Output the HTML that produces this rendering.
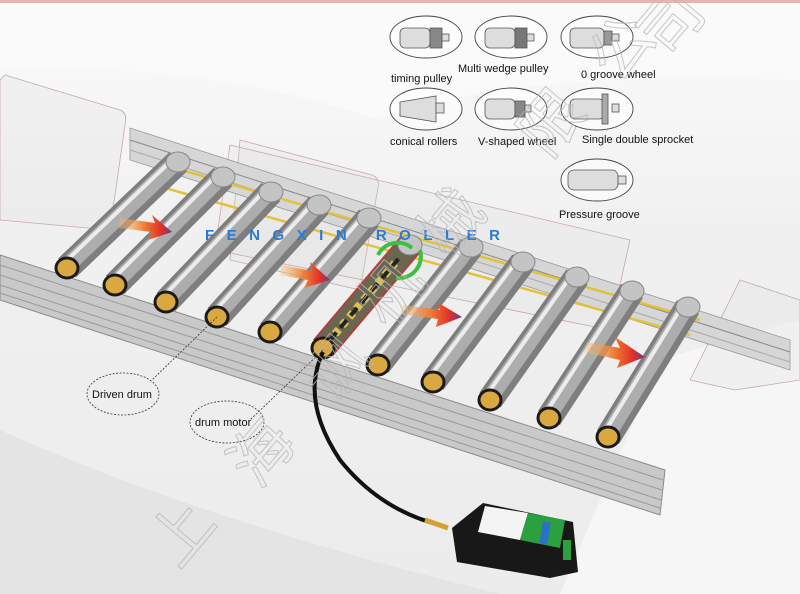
<!DOCTYPE html>
<html><head><meta charset="utf-8"><style>
html,body{margin:0;padding:0;background:#fff}
svg{display:block}
text{font-family:"Liberation Sans",sans-serif}
</style></head><body>
<svg width="800" height="594" viewBox="0 0 800 594" xmlns="http://www.w3.org/2000/svg">
<defs>
<linearGradient id="bg" x1="0" y1="0" x2="0" y2="1">
<stop offset="0" stop-color="#fbfbfb"/><stop offset="0.4" stop-color="#f0f0f0"/><stop offset="1" stop-color="#ececec"/>
</linearGradient>
<linearGradient id="arr" x1="0" y1="0" x2="1" y2="0">
<stop offset="0" stop-color="#f7c27a" stop-opacity="0.3"/><stop offset="0.5" stop-color="#f07a30"/><stop offset="0.8" stop-color="#e0302a"/><stop offset="1" stop-color="#6a3a8a"/>
</linearGradient>
</defs>
<rect width="800" height="594" fill="url(#bg)"/>
<rect x="0" y="0" width="800" height="3" fill="#e6b5b0"/>
<path d="M0 20 Q300 0 800 20 L800 80 Q500 70 380 120 Q200 60 0 70Z" fill="#fafafa"/>
<path d="M0 430 Q200 520 500 594 L0 594Z" fill="#e4e4e4"/>
<path d="M660 360 Q760 330 800 320 L800 594 L560 594Z" fill="#f6f6f6"/>
<g fill="rgba(225,225,225,0.3)" stroke="#c8a8a8" stroke-width="0.8">
<path d="M5 75 L120 110 Q128 113 125 125 L110 230 L0 220 L0 80Z"/>
<path d="M240 140 L372 175 Q380 178 378 188 L360 290 L230 260Z"/>
<path d="M740 280 L800 300 L800 380 L735 390 L690 380 Z"/>
<path d="M230 145 L630 240 L610 330 L215 250Z" fill="rgba(220,220,220,0.2)"/>
</g>
<polygon points="130,128 790,340 790,370 130,160" fill="#d6d6d6" stroke="#999" stroke-width="0.8"/>
<line x1="130" y1="140" x2="790" y2="352" stroke="#888" stroke-width="1"/>
<line x1="130" y1="150" x2="790" y2="362" stroke="#aaa" stroke-width="1"/>
<polygon points="0,255 665,470 660,515 0,300" fill="#c9c9c9" stroke="#8a8a8a" stroke-width="1"/>
<g stroke="#9a9a9a" stroke-width="1">
<line x1="0" y1="265" x2="663" y2="480"/><line x1="0" y1="275" x2="662" y2="490"/>
<line x1="0" y1="285" x2="661" y2="500"/><line x1="0" y1="293" x2="660" y2="508"/>
</g>
<g stroke="#e2c23a" stroke-width="2.5" fill="none">
<line x1="175" y1="168" x2="700" y2="320"/>
<line x1="165" y1="188" x2="690" y2="335"/>
</g>
<g stroke-linecap="butt">
<g stroke="#7e7e7e" stroke-width="26">
<line x1="67" y1="268" x2="178" y2="162"/><line x1="115" y1="285" x2="223" y2="177"/>
<line x1="166" y1="302" x2="271" y2="192"/><line x1="217" y1="317" x2="319" y2="205"/>
<line x1="270" y1="332" x2="369" y2="218"/><line x1="378" y1="365" x2="471" y2="247"/>
<line x1="433" y1="382" x2="523" y2="262"/><line x1="490" y1="400" x2="577" y2="277"/>
<line x1="549" y1="418" x2="632" y2="291"/><line x1="608" y1="437" x2="688" y2="307"/>
</g>
<g stroke="#adadad" stroke-width="16" transform="translate(-1,-1)">
<line x1="67" y1="268" x2="178" y2="162"/><line x1="115" y1="285" x2="223" y2="177"/>
<line x1="166" y1="302" x2="271" y2="192"/><line x1="217" y1="317" x2="319" y2="205"/>
<line x1="270" y1="332" x2="369" y2="218"/><line x1="378" y1="365" x2="471" y2="247"/>
<line x1="433" y1="382" x2="523" y2="262"/><line x1="490" y1="400" x2="577" y2="277"/>
<line x1="549" y1="418" x2="632" y2="291"/><line x1="608" y1="437" x2="688" y2="307"/>
</g>
<g stroke="#ececec" stroke-width="4" transform="translate(-4,-4)">
<line x1="67" y1="268" x2="178" y2="162"/><line x1="115" y1="285" x2="223" y2="177"/>
<line x1="166" y1="302" x2="271" y2="192"/><line x1="217" y1="317" x2="319" y2="205"/>
<line x1="270" y1="332" x2="369" y2="218"/><line x1="378" y1="365" x2="471" y2="247"/>
<line x1="433" y1="382" x2="523" y2="262"/><line x1="490" y1="400" x2="577" y2="277"/>
<line x1="549" y1="418" x2="632" y2="291"/><line x1="608" y1="437" x2="688" y2="307"/>
</g>
<line x1="323" y1="348" x2="410" y2="245" stroke="#b04040" stroke-width="26"/>
<line x1="323" y1="348" x2="410" y2="245" stroke="#6a6650" stroke-width="22"/>
<line x1="335" y1="334" x2="395" y2="263" stroke="#d8c050" stroke-width="8" stroke-dasharray="6 5"/>
<line x1="330" y1="340" x2="400" y2="257" stroke="#222" stroke-width="4" stroke-dasharray="10 6"/>
</g>
<g fill="#c4c4c4" stroke="#888" stroke-width="1">
<ellipse cx="178" cy="162" rx="12" ry="10"/><ellipse cx="223" cy="177" rx="12" ry="10"/>
<ellipse cx="271" cy="192" rx="12" ry="10"/><ellipse cx="319" cy="205" rx="12" ry="10"/>
<ellipse cx="369" cy="218" rx="12" ry="10"/><ellipse cx="410" cy="245" rx="12" ry="10"/>
<ellipse cx="471" cy="247" rx="12" ry="10"/><ellipse cx="523" cy="262" rx="12" ry="10"/>
<ellipse cx="577" cy="277" rx="12" ry="10"/><ellipse cx="632" cy="291" rx="12" ry="10"/>
<ellipse cx="688" cy="307" rx="12" ry="10"/>
</g>
<path d="M378 255 A22 22 0 0 1 412 248" stroke="#3cc040" stroke-width="4" fill="none"/>
<path d="M420 250 A22 22 0 0 1 396 278" stroke="#3cc040" stroke-width="4" fill="none"/>
<g fill="#d9a840" stroke="#1a1a1a" stroke-width="3">
<ellipse cx="67" cy="268" rx="11" ry="10"/><ellipse cx="115" cy="285" rx="11" ry="10"/>
<ellipse cx="166" cy="302" rx="11" ry="10"/><ellipse cx="217" cy="317" rx="11" ry="10"/>
<ellipse cx="270" cy="332" rx="11" ry="10"/><ellipse cx="323" cy="348" rx="11" ry="10"/>
<ellipse cx="378" cy="365" rx="11" ry="10"/><ellipse cx="433" cy="382" rx="11" ry="10"/>
<ellipse cx="490" cy="400" rx="11" ry="10"/><ellipse cx="549" cy="418" rx="11" ry="10"/>
<ellipse cx="608" cy="437" rx="11" ry="10"/>
</g>
<g fill="url(#arr)">
<path d="M120 218 L155 223 L152 215 L172 232 L148 240 L152 232 L118 228Z"/>
<path d="M282 265 L312 271 L310 262 L330 280 L304 288 L308 280 L280 275Z"/>
<path d="M403 305 L440 310 L437 302 L462 317 L436 327 L438 319 L400 314Z"/>
<path d="M587 342 L620 348 L615 337 L645 357 L617 368 L620 360 L584 352Z"/>
</g>
<text x="205" y="240" font-size="15" font-weight="bold" fill="#2a7ad0" letter-spacing="12.5">FENGXIN ROLLER</text>
<path d="M323 352 Q300 400 340 460 Q380 510 440 525" stroke="#111" stroke-width="4" fill="none"/>
<path d="M425 520 L448 528" stroke="#d8a030" stroke-width="5"/>
<polygon points="483,503 573,522 578,572 550,578 457,562 452,528" fill="#181818"/>
<polygon points="485,506 528,513 520,540 478,532" fill="#f4f4f4"/>
<polygon points="528,513 565,520 560,548 520,540" fill="#2aa040"/>
<rect x="541" y="522" width="8" height="22" fill="#2d70c8" transform="rotate(10 545 533)"/>
<rect x="563" y="540" width="8" height="20" fill="#2aa040"/>
<g stroke="#333" stroke-width="0.8" fill="none" stroke-dasharray="2 1.5">
<line x1="217" y1="317" x2="152" y2="380"/>
<line x1="323" y1="350" x2="250" y2="420"/>
<ellipse cx="123" cy="394" rx="36" ry="21"/>
<ellipse cx="227" cy="422" rx="37" ry="21"/>
</g>
<text x="92" y="398" font-size="11" fill="#111">Driven drum</text>
<text x="195" y="426" font-size="11" fill="#111">drum motor</text>
<g stroke="#444" stroke-width="0.9" fill="rgba(255,255,255,0.6)">
<ellipse cx="426" cy="37" rx="36" ry="21"/><ellipse cx="511" cy="37" rx="36" ry="21"/>
<ellipse cx="597" cy="37" rx="36" ry="21"/><ellipse cx="426" cy="109" rx="36" ry="21"/>
<ellipse cx="511" cy="109" rx="36" ry="21"/><ellipse cx="597" cy="109" rx="36" ry="21"/>
<ellipse cx="597" cy="180" rx="36" ry="21"/>
</g>
<g stroke="#555" stroke-width="0.8" fill="#ddd">
<rect x="400" y="28" width="30" height="20" rx="5"/><rect x="430" y="28" width="12" height="20" fill="#888"/><rect x="442" y="34" width="7" height="7"/>
<rect x="485" y="28" width="30" height="20" rx="5"/><rect x="515" y="28" width="12" height="20" fill="#777"/><rect x="527" y="34" width="7" height="7"/>
<rect x="570" y="28" width="34" height="20" rx="5"/><rect x="604" y="31" width="8" height="14" fill="#999"/><rect x="612" y="34" width="7" height="7"/>
<polygon points="400,102 436,96 436,122 400,116"/><rect x="436" y="103" width="8" height="10"/>
<rect x="485" y="99" width="30" height="20" rx="5"/><rect x="515" y="101" width="10" height="16" fill="#888"/><rect x="525" y="105" width="6" height="7"/>
<rect x="570" y="99" width="34" height="20" rx="5"/><rect x="602" y="94" width="6" height="30" fill="#aaa"/><rect x="612" y="104" width="7" height="8"/>
<rect x="568" y="170" width="50" height="20" rx="6"/><rect x="618" y="176" width="8" height="8"/>
</g>
<g font-size="11" fill="#111">
<text x="391" y="82">timing pulley</text>
<text x="458" y="72">Multi wedge pulley</text>
<text x="581" y="78">0 groove wheel</text>
<text x="390" y="145">conical rollers</text>
<text x="478" y="145">V-shaped wheel</text>
<text x="582" y="143">Single double sprocket</text>
<text x="559" y="218">Pressure groove</text>
</g>
<g font-family="'Liberation Sans','Noto Sans CJK SC',sans-serif" font-size="62" fill="none" stroke="#b8b8b8" stroke-width="1" opacity="0.8">
<text x="150" y="560" transform="rotate(-50 175 535)">上</text>
<text x="230" y="480" transform="rotate(-50 255 455)">海</text>
<text x="305" y="395" transform="rotate(-50 330 370)">讽</text>
<text x="360" y="320" transform="rotate(-50 385 295)">机</text>
<text x="420" y="250" transform="rotate(-50 445 225)">械</text>
<text x="520" y="150" transform="rotate(-50 545 125)">限</text>
<text x="590" y="75" transform="rotate(-50 615 50)">公</text>
<text x="640" y="50" transform="rotate(-50 665 25)">司</text>
</g>
</svg>
</body></html>
